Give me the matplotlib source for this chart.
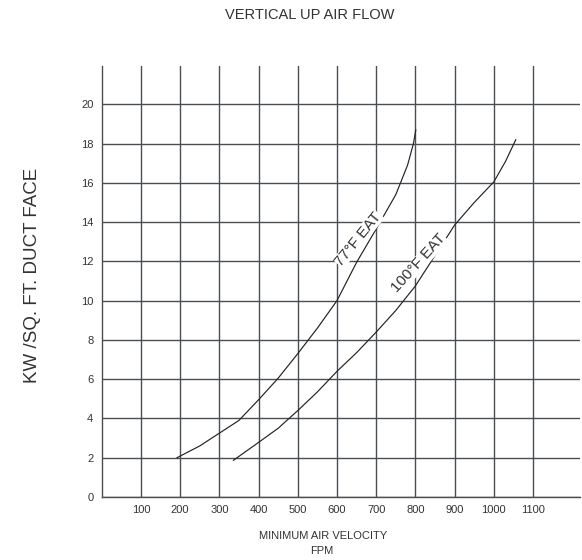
import matplotlib.pyplot as plt

plt.rcParams['font.family'] = ['Liberation Sans', 'DejaVu Sans']

# dati
vel_77 = [192, 250, 300, 350, 400, 450, 500, 550, 600, 650, 700, 750, 780, 795, 801]
kw_77 = [2.0, 2.6, 3.25, 3.9, 4.95, 6.05, 7.3, 8.6, 10.0, 11.95, 13.65, 15.4, 16.9, 18.0, 18.7]
vel_100 = [336, 400, 450, 500, 550, 600, 650, 700, 750, 800, 850, 900, 950, 1000, 1030, 1056]
kw_100 = [1.87, 2.78, 3.5, 4.4, 5.35, 6.4, 7.35, 8.4, 9.5, 10.75, 12.3, 13.85, 15.0, 16.05, 17.1, 18.2]
x_ticks = [100, 200, 300, 400, 500, 600, 700, 800, 900, 1000, 1100]
y_ticks = [0, 2, 4, 6, 8, 10, 12, 14, 16, 18, 20]

grid_col = '#4a4d52'
text_col = '#333333'

fig = plt.figure(figsize=(5.82, 5.60), dpi=100)
ax = fig.add_axes([0.1747, 0.1125, 0.822, 0.7695])

ax.set_xlim(0, 1220)
ax.set_ylim(0, 21.95)

# griglia disegnata a mano
for xv in x_ticks:
    ax.axvline(xv, color=grid_col, lw=1.0, zorder=1)
for yv in y_ticks:
    ax.axhline(yv, color=grid_col, lw=1.0, zorder=1)

ax.plot(vel_77, kw_77, color='#222222', lw=0.85, zorder=3)
ax.plot(vel_100, kw_100, color='#222222', lw=0.85, zorder=3)

ax.text(655, 13.15, '77°F EAT', rotation=51, ha='center', va='center',
        fontsize=11, color=text_col, zorder=4,
        bbox=dict(facecolor='white', edgecolor='none', pad=0.2))
ax.text(809, 11.9, '100°F EAT', rotation=48, ha='center', va='center',
        fontsize=11, color=text_col, zorder=4,
        bbox=dict(facecolor='white', edgecolor='none', pad=0.2))

ax.set_xticks(x_ticks)
ax.set_yticks(y_ticks)
ax.tick_params(length=0, labelsize=8, colors=text_col, pad=6)

for s in ['top', 'right']:
    ax.spines[s].set_visible(False)
for s in ['left', 'bottom']:
    ax.spines[s].set_color(grid_col)
    ax.spines[s].set_linewidth(1.0)

fig.text(310 / 582, 1 - 15 / 560, 'VERTICAL UP AIR FLOW', ha='center', va='center',
         fontsize=10.5, color=text_col)
fig.text(33 / 582, 1 - 275 / 560, 'KW /SQ. FT. DUCT FACE', ha='center', va='center',
         rotation=90, fontsize=13.5, color=text_col)
fig.text(323 / 582, 1 - 536 / 560, 'MINIMUM AIR VELOCITY', ha='center', va='center',
         fontsize=8, color=text_col)
fig.text(322 / 582, 1 - 551 / 560, 'FPM', ha='center', va='center',
         fontsize=8, color=text_col)

fig.savefig('out.png', dpi=100, facecolor='white')
